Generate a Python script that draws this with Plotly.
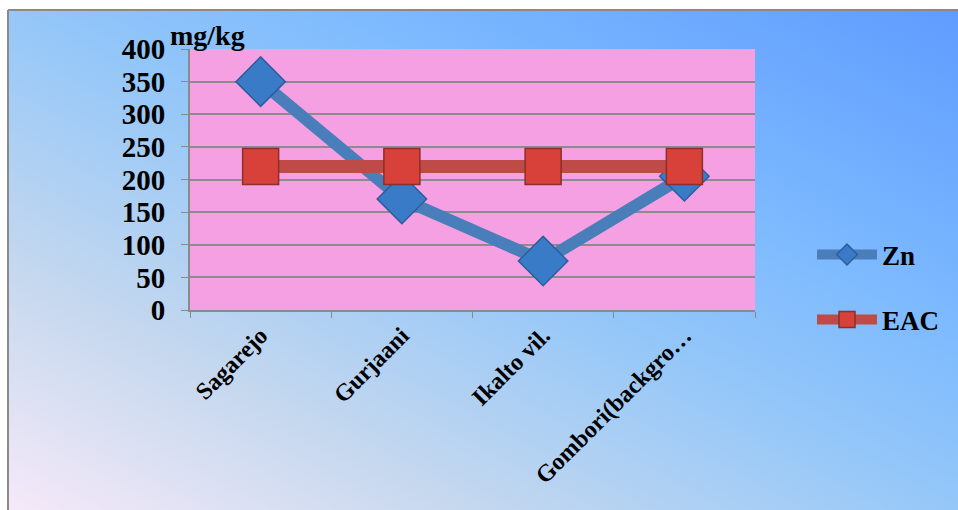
import base64
import plotly.graph_objects as go

categories = ["Sagarejo", "Gurjaani", "Ikalto vil.", "Gombori(backgro…"]
zn_values = [350, 170, 75, 205]
eac_values = [220, 220, 220, 220]
y_ticks = [0, 50, 100, 150, 200, 250, 300, 350, 400]

W, H = 958, 510
L, R, T, B = 190, 203, 49, 200
PW, PH = W - L - R, H - T - B

FONT = dict(family="Liberation Serif, Times New Roman, serif", color="black", weight="bold")

svg = f'''<svg xmlns="http://www.w3.org/2000/svg" width="{W}" height="{H}" viewBox="0 0 {W} {H}" preserveAspectRatio="none">
<defs><linearGradient id="g" x1="0" y1="1" x2="1" y2="0">
<stop offset="0" stop-color="#F5E9F8"/>
<stop offset="0.24" stop-color="#C6D8EE"/>
<stop offset="0.5" stop-color="#95C7F8"/>
<stop offset="0.68" stop-color="#7DBAFE"/>
<stop offset="1" stop-color="#5F9CFF"/>
</linearGradient></defs>
<rect x="0" y="0" width="{W}" height="{H}" fill="url(#g)"/></svg>'''
src = "data:image/svg+xml;base64," + base64.b64encode(svg.encode()).decode()

def px_x(x):
    return (x - L) / PW

def px_y(y):
    return (H - B - y) / PH

fig = go.Figure()
fig.add_trace(go.Scatter(
    x=categories, y=zn_values, name="Zn", mode="lines+markers",
    line=dict(color="#4A7EBB", width=12),
    marker=dict(symbol="diamond", size=38, color="#3A7BC8",
                line=dict(color="#2A5E9C", width=1.5)),
    legend="legend",
))
fig.add_trace(go.Scatter(
    x=categories, y=eac_values, name="EAC", mode="lines+markers",
    line=dict(color="#BE4B48", width=13),
    marker=dict(symbol="square", size=36, color="#D8403A",
                line=dict(color="#8C2E2A", width=1.5)),
    legend="legend2",
))

fig.update_layout(
    width=W, height=H,
    margin=dict(l=L, r=R, t=T, b=B, autoexpand=False),
    paper_bgcolor="white",
    plot_bgcolor="rgba(0,0,0,0)",
    font=FONT,
    showlegend=True,
    images=[dict(source=src, xref="paper", yref="paper",
                 x=px_x(8), y=px_y(10), sizex=(W - 8) / PW, sizey=(H - 10) / PH,
                 xanchor="left", yanchor="top", sizing="stretch", layer="below")],
    shapes=[
        dict(type="rect", xref="paper", yref="paper", x0=0, x1=1, y0=0, y1=1,
             fillcolor="#F5A0E2", line=dict(width=0), layer="below"),
        dict(type="line", xref="paper", yref="paper", x0=px_x(8), x1=px_x(W + 5),
             y0=px_y(10), y1=px_y(10), line=dict(color="#8A8A8A", width=2), layer="above"),
        dict(type="line", xref="paper", yref="paper", x0=px_x(8), x1=px_x(8),
             y0=px_y(10), y1=px_y(H + 5), line=dict(color="#8A8A8A", width=2), layer="above"),
    ],
    annotations=[dict(text="mg/kg", xref="paper", yref="paper", x=px_x(168), y=px_y(35),
                      xanchor="left", yanchor="middle", showarrow=False,
                      font=dict(size=28, **FONT))],
    legend=dict(x=px_x(812), y=px_y(255), xanchor="left", yanchor="middle",
                bgcolor="rgba(0,0,0,0)", font=dict(size=27), itemwidth=60),
    legend2=dict(x=px_x(812), y=px_y(320), xanchor="left", yanchor="middle",
                 bgcolor="rgba(0,0,0,0)", font=dict(size=27), itemwidth=60),
)
fig.update_xaxes(
    type="category", tickangle=-45, tickson="boundaries", ticks="outside",
    ticklen=6, tickcolor="#8A8A8A", showline=True, linecolor="#8A8A8A", linewidth=2,
    showgrid=False, tickfont=dict(size=24), range=[-0.5, 3.5], automargin=False,
)
fig.update_yaxes(
    range=[0, 400], tickvals=y_ticks, ticks="outside", ticklen=7, tickcolor="#8A8A8A",
    showline=True, linecolor="#8A8A8A", linewidth=2, gridcolor="#8C8C8C", gridwidth=1.5,
    tickfont=dict(size=29), zeroline=False, ticklabelstandoff=10, automargin=False,
)
fig.write_html("out.html")
